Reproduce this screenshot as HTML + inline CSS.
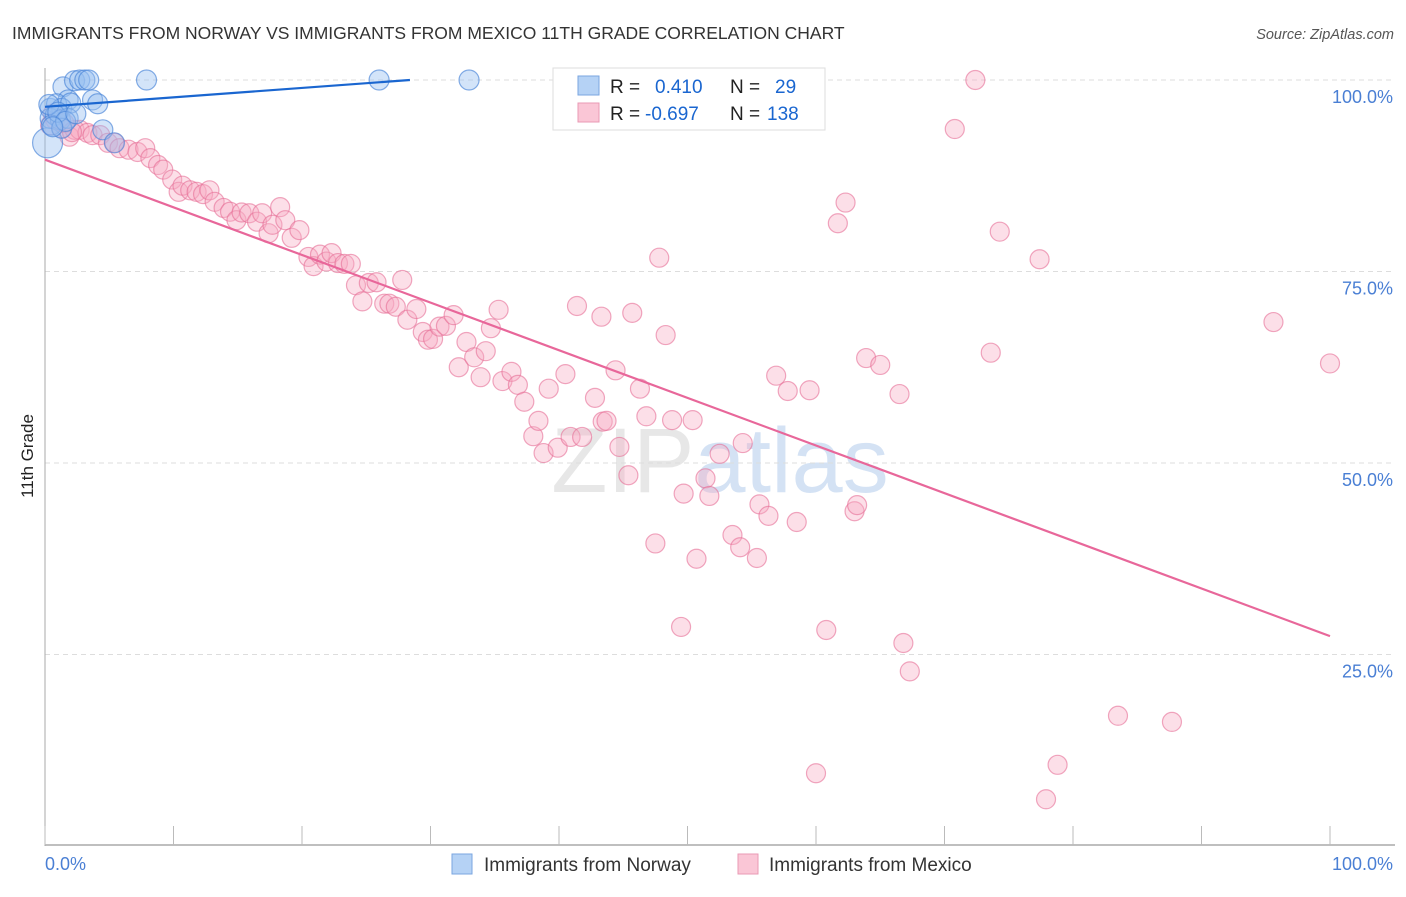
<!DOCTYPE html>
<html><head><meta charset="utf-8"><style>
body{margin:0;background:#fff;font-family:"Liberation Sans",sans-serif}
svg text{font-family:"Liberation Sans",sans-serif}
</style></head><body>
<svg id="c" width="1406" height="892">
<text x="12" y="39" font-size="17.5" fill="#333">IMMIGRANTS FROM NORWAY VS IMMIGRANTS FROM MEXICO 11TH GRADE CORRELATION CHART</text>
<text x="1394" y="39" font-size="14.5" fill="#555" text-anchor="end" font-style="italic">Source: ZipAtlas.com</text>
<text transform="translate(33,456) rotate(-90)" font-size="17" fill="#222" text-anchor="middle">11th Grade</text>
<text x="720" y="492" font-size="92" text-anchor="middle" fill="#d8d8d8" opacity="0.6" font-family="Liberation Serif">ZIP<tspan fill="#b9d0ee">atlas</tspan></text>
<g id="grid"></g><g id="axes"></g><g id="pts"></g><g id="trends"></g>
<g>
<rect x="553" y="68" width="272" height="62" fill="#fff" stroke="#ddd"/>
<rect x="578" y="76" width="21" height="19" fill="#b5d2f5" stroke="#7aa6e0"/>
<rect x="578" y="103" width="21" height="19" fill="#fac6d6" stroke="#e99ab4"/>
<text x="610" y="93" font-size="19" fill="#222">R = <tspan x="655" fill="#1a66d0">0.410</tspan><tspan x="730" fill="#222">N = </tspan><tspan x="775" fill="#1a66d0">29</tspan></text>
<text x="610" y="120" font-size="19" fill="#222">R = <tspan x="645" fill="#1a66d0">-0.697</tspan><tspan x="730" fill="#222">N = </tspan><tspan x="767" fill="#1a66d0">138</tspan></text>
</g>
<g>
<rect x="452" y="854" width="20" height="20" fill="#b5d2f5" stroke="#7aa6e0"/>
<text x="484" y="871" font-size="19" fill="#333">Immigrants from Norway</text>
<rect x="738" y="854" width="20" height="20" fill="#fac6d6" stroke="#e99ab4"/>
<text x="769" y="871" font-size="19" fill="#333">Immigrants from Mexico</text>
</g>
</svg>
<script>
const yTicks=[25,50,75,100];
const yTickLabels=["25.0%","50.0%","75.0%","100.0%"];
const xTicks=[0,10,20,30,40,50,60,70,80,90,100];
const xEndLabels=["0.0%","100.0%"];
const norwayX=[0.2,1.4,2.3,2.7,3.1,3.4,7.9,26,33,1.8,3.7,4.1,0.4,0.9,1.3,2,0.4,0.8,1.2,1.8,0.5,1.3,4.5,5.4,0.3,1.0,1.6,2.4,0.6];
const norwayY=[91.8,99.1,99.9,100,100,100,100,100,100,97.4,97.4,96.9,96.3,96.9,96.3,97,95,95.4,94.8,95,94.1,93.7,93.5,91.8,96.8,95.8,94.6,95.6,93.9];
const norwaySize=[15,10,10,10,10,10,10,10,10,10,10,10,10,10,10,10,10,10,10,10,10,10,10,10,10,10,10,10,10];
const mexicoX=[0.4,0.8,1.3,1.9,2.3,2.7,3.3,3.7,4.3,4.9,5.4,5.8,6.5,7.2,7.8,8.2,8.8,9.2,9.9,10.4,10.7,11.3,11.8,12.3,12.8,13.2,13.9,14.4,14.9,15.3,15.9,16.5,16.9,17.4,17.7,18.3,18.7,19.2,19.8,20.5,20.9,21.4,21.9,22.3,22.8,23.3,23.8,24.2,24.7,25.2,25.8,26.4,26.8,27.3,27.8,28.2,28.9,29.4,29.8,30.2,30.7,31.2,31.8,32.2,32.8,33.4,33.9,34.3,34.7,35.3,35.6,36.3,36.8,37.3,38,38.4,38.8,39.2,39.9,40.5,40.9,41.4,41.8,42.8,43.4,43.7,43.3,44.4,44.7,45.4,45.7,46.3,46.8,47.5,47.8,48.3,48.8,49.5,49.7,50.4,50.7,51.4,51.7,52.5,53.5,54.1,54.3,54.7,55.4,55.6,56.3,56.9,57.8,58.5,59.5,60,60.8,61.7,62.3,63,63.2,63.9,65,66.5,66.8,67.3,70.8,72.4,73.6,74.3,77.4,77.9,78.8,83.5,87.7,95.6,100,0.6,1.5,2.1];
const mexicoY=[94.1,94.8,93.7,92.6,93.5,93.5,93.1,92.8,92.8,91.8,91.8,91.1,90.9,90.6,91.1,89.8,88.9,88.3,87,85.4,86.2,85.6,85.4,85.1,85.6,84.1,83.3,82.8,81.7,82.7,82.6,81.5,82.6,80,81.1,83.4,81.7,79.4,80.4,76.9,75.7,77.2,76.3,77.4,76.1,76,76,73.2,71.1,73.5,73.6,70.8,70.8,70.4,73.9,68.7,70.1,67.1,66.1,66.2,67.8,67.9,69.3,62.5,65.8,63.8,61.2,64.6,67.6,70,60.7,61.9,60.2,58,53.5,55.5,51.3,59.7,52,61.6,53.4,70.5,53.4,58.5,55.4,55.5,69.1,62.1,52.1,48.4,69.6,59.7,56.1,39.5,76.8,66.7,55.6,28.6,46,55.6,37.5,48,45.7,51.2,40.6,39,52.6,100,37.6,44.6,43.1,61.4,59.4,42.3,59.5,9.5,28.2,81.3,84,43.7,44.5,63.7,62.8,59,26.5,22.8,93.6,100,64.4,80.2,76.6,6.1,10.6,17,16.2,68.4,63,95.6,94.4,93.2];
const norwayTrend=[[0,96.5],[28.4,100]];
const mexicoTrend=[[0,89.6],[100,27.4]];
const NS="http://www.w3.org/2000/svg";
const X0=45,X1=1330,Y0=846,Y100=80;
function sx(p){return X0+(X1-X0)*p/100;}
function sy(v){return Y0-(Y0-Y100)*v/100;}
function mk(tag,attrs,parent){const e=document.createElementNS(NS,tag);for(const k in attrs)e.setAttribute(k,attrs[k]);document.getElementById(parent).appendChild(e);return e;}
yTicks.forEach((t,i)=>{
 const l=mk('line',{x1:45,x2:1395,y1:sy(t),y2:sy(t),stroke:'#ddd','stroke-dasharray':'5,4'},'grid');
 
 
 const tx=mk('text',{x:1393,y:sy(t)+23,'font-size':18,fill:'#4a7fd4','text-anchor':'end'},'grid');
 tx.textContent=yTickLabels[i];
 
 
});
const yl=mk('line',{x1:45,x2:45,y1:68,y2:846,stroke:'#aaa'},'axes');


const xl=mk('line',{x1:45,x2:1395,y1:845,y2:845,stroke:'#aaa','stroke-width':1.5},'axes');


xTicks.forEach(t=>{
 const l=mk('line',{x1:sx(t),x2:sx(t),y1:826,y2:845,stroke:'#bbb'},'axes');
 
 
});
[[0,'start',45],[100,'end',1393]].forEach((d,i)=>{
 const tx=mk('text',{x:d[2],y:870,'font-size':18,fill:'#4a7fd4','text-anchor':d[1]},'axes');
 tx.textContent=xEndLabels[i];
 
 
});
mexicoX.forEach((x,i)=>{
 const c=mk('circle',{cx:sx(x),cy:sy(mexicoY[i]),r:9.5,fill:'rgba(247,170,195,0.38)',stroke:'rgba(230,110,150,0.6)','stroke-width':1.2},'pts');
 
 
});
norwayX.forEach((x,i)=>{
 const c=mk('circle',{cx:sx(x),cy:sy(norwayY[i]),r:norwaySize[i],fill:'rgba(150,190,240,0.42)',stroke:'rgba(70,130,215,0.65)','stroke-width':1.2},'pts');
 
 
});
const tn=mk('line',{x1:sx(norwayTrend[0][0]),y1:sy(norwayTrend[0][1]),x2:sx(norwayTrend[1][0]),y2:sy(norwayTrend[1][1]),stroke:'#1a66d0','stroke-width':2.2},'trends');


const tm=mk('line',{x1:sx(mexicoTrend[0][0]),y1:sy(mexicoTrend[0][1]),x2:sx(mexicoTrend[1][0]),y2:sy(mexicoTrend[1][1]),stroke:'#e8679a','stroke-width':2.2},'trends');


</script>
</body></html>
